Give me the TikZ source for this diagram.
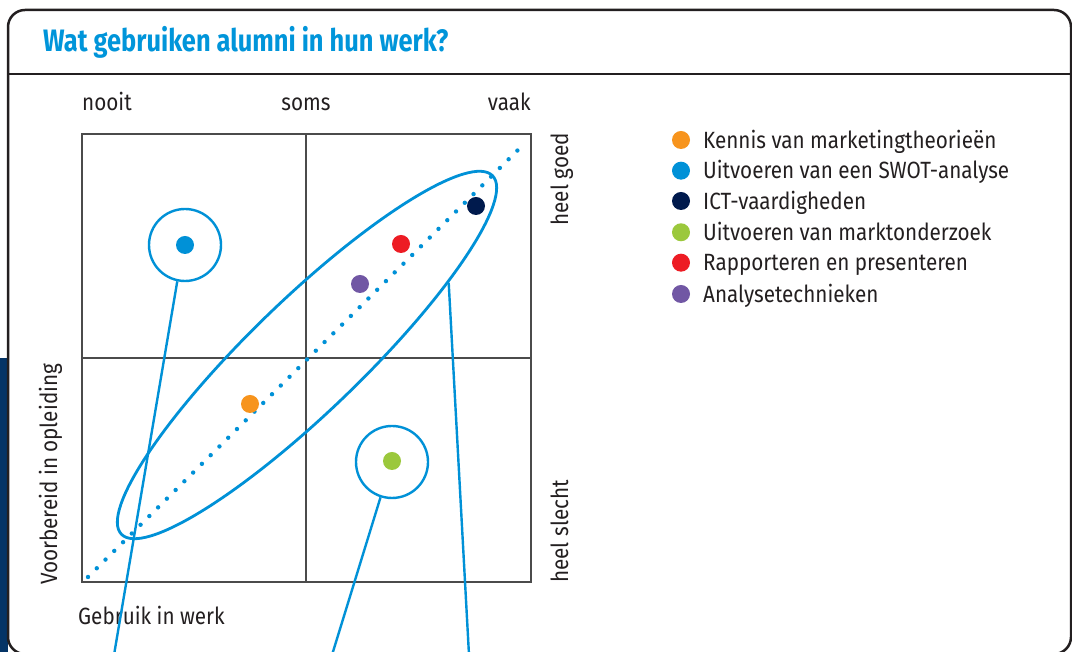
\documentclass[tikz,border=0pt]{standalone}
\usepackage{fontspec}
\setmainfont{Fira Sans}[FakeStretch=0.88]
\newfontfamily\titlefont{Fira Sans Bold}[FakeStretch=0.82]
\usepackage{xcolor}
\usepackage{tikz}
\usetikzlibrary{shapes.geometric}
\definecolor{framegray}{RGB}{35,31,32}
\definecolor{gridgray}{RGB}{75,75,75}
\definecolor{lineblue}{RGB}{0,145,215}
\definecolor{titleblue}{RGB}{0,149,218}
\definecolor{stripblue}{RGB}{4,52,102}
\definecolor{dotorange}{RGB}{247,148,29}
\definecolor{dotnavy}{RGB}{0,26,77}
\definecolor{dotgreen}{RGB}{155,200,60}
\definecolor{dotred}{RGB}{237,28,36}
\definecolor{dotpurple}{RGB}{113,87,164}

\begin{document}
\begin{tikzpicture}
                \tikzset{x={(1pt, 0pt)}, y={(0pt, 1pt)}}
                \tikzset{txt/.style={inner sep=0pt, text=framegray, font=\fontsize{23.5}{28}\selectfont},
                         datadot/.style={circle, inner sep=0pt, minimum size=18},
                         ring/.style={circle, draw=lineblue, line width=2.4, inner sep=0pt, minimum size=72},
                         leader/.style={draw=lineblue, line width=2.4}}
                \clip (0, 0) rectangle (1072, 652);
                \fill[stripblue] (0, 0) rectangle (8, 294);
                \draw[framegray, line width=2.5, fill=white, rounded corners=17] (8, -2) rectangle (1071, 642);
                \draw[framegray, line width=2.5] (8, 578) -- (1071, 578);
                \node[inner sep=0pt, anchor=base west, text=titleblue, font=\titlefont\fontsize{31}{36}\selectfont] (title) at (43, 600) {Wat gebruiken alumni in hun werk?};
                \draw[gridgray, line width=1.2] (82, 70) rectangle (531, 518);
                \draw[gridgray, line width=1.2] (306, 70) -- (306, 518);
                \draw[gridgray, line width=1.2] (82, 294) -- (531, 294);
                \node[txt, anchor=base west] (nooit) at (82, 541) {nooit};
                \node[txt, anchor=base] (soms) at (306, 541) {soms};
                \node[txt, anchor=base east] (vaak) at (531, 541) {vaak};
                \node[txt, anchor=base east, rotate=90] (goed) at (568, 519) {heel goed};
                \node[txt, anchor=base west, rotate=90] (slecht) at (568, 69) {heel slecht};
                \node[txt, anchor=base west, rotate=90] (opleiding) at (57, 67) {Voorbereid in opleiding};
                \node[txt, anchor=base west] (werk) at (78, 27) {Gebruik in werk};
                \coordinate (diagstart) at (88, 75);
                \coordinate (diagend) at (526, 510);
                \draw[lineblue, line width=4.4, line cap=round, dash pattern=on 0pt off 12.35pt] (diagstart) -- (diagend);
                \node[ellipse, draw=lineblue, line width=2.8, inner sep=0pt, minimum width=516, minimum height=112, rotate=44] (cluster) at (307, 297) {};
                \node[ring] (swotring) at (185, 407) {};
                \node[ring] (marktring) at (392, 190) {};
                \node[datadot, fill=dotorange] (kennispt) at (250, 248) {};
                \node[datadot, fill=lineblue] (swotpt) at (185, 407) {};
                \node[datadot, fill=dotnavy] (ictpt) at (476, 446) {};
                \node[datadot, fill=dotred] (rapportpt) at (401, 408) {};
                \node[datadot, fill=dotpurple] (analysept) at (360, 368) {};
                \node[datadot, fill=dotgreen] (marktpt) at (392, 191) {};
                \coordinate (swotend) at (114, -3);
                \coordinate (marktend) at (332, -3);
                \coordinate (clusterend) at (469, -3);
                \draw[leader] (swotring.258) -- (swotend);
                \draw[leader] (marktring.252) -- (marktend);
                \draw[leader] (cluster.-17) -- (clusterend);
                \node[datadot, fill=dotorange] (kenniskey) at (681, 512) {};
                \node[datadot, fill=lineblue] (swotkey) at (681, 481.3) {};
                \node[datadot, fill=dotnavy] (ictkey) at (681, 451) {};
                \node[datadot, fill=dotgreen] (marktkey) at (681, 419.7) {};
                \node[datadot, fill=dotred] (rapportkey) at (681, 389.3) {};
                \node[datadot, fill=dotpurple] (analysekey) at (681, 358) {};
                \node[txt, anchor=base west] (kennis) at (703, 503.7) {Kennis van marketingtheorieën};
                \node[txt, anchor=base west] (swot) at (703, 473) {Uitvoeren van een SWOT-analyse};
                \node[txt, anchor=base west] (ict) at (703, 442.7) {ICT-vaardigheden};
                \node[txt, anchor=base west] (markt) at (703, 411.4) {Uitvoeren van marktonderzoek};
                \node[txt, anchor=base west] (rapport) at (703, 381) {Rapporteren en presenteren};
                \node[txt, anchor=base west] (analyse) at (703, 349.7) {Analysetechnieken};
\end{tikzpicture}
\end{document}
